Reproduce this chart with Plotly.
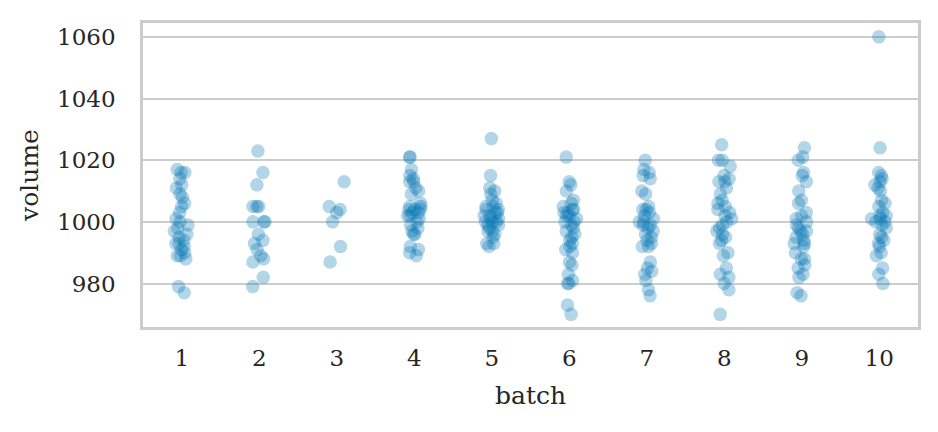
import plotly.graph_objects as go

batches = ["1", "2", "3", "4", "5", "6", "7", "8", "9", "10"]

v1 = [1017, 1016, 1016, 1014, 1012, 1011, 1009, 1008, 1006, 1005, 1003, 1001, 1000, 999, 998,
      997, 996, 995, 994, 993, 993, 992, 991, 990, 989, 989, 988, 979, 977]
v2 = [1023, 1016, 1012, 1005, 1005, 1005, 1000, 1000, 1000, 996, 994, 993, 991, 989, 988, 987, 982, 979]
v3 = [1013, 1005, 1004, 1003, 1000, 992, 987]
v4 = [1021, 1021, 1017, 1015, 1014, 1013, 1013, 1011, 1010, 1009, 1006, 1005, 1005, 1004, 1004,
      1004, 1003, 1003, 1002, 1002, 1001, 1000, 999, 998, 997, 996, 996, 992, 991, 990, 989]
v5 = [1027, 1015, 1011, 1010, 1009, 1007, 1006, 1005, 1005, 1004, 1004, 1003, 1003, 1002, 1002,
      1001, 1001, 1000, 1000, 1000, 999, 999, 998, 997, 997, 996, 995, 993, 993, 992]
v6 = [1021, 1013, 1012, 1010, 1007, 1006, 1005, 1004, 1004, 1003, 1003, 1002, 1002, 1001, 1000,
      1000, 999, 998, 997, 996, 995, 994, 993, 992, 991, 990, 987, 986, 983, 981, 980, 980, 973, 970]
v7 = [1020, 1017, 1016, 1015, 1014, 1010, 1009, 1005, 1004, 1004, 1003, 1002, 1001, 1000, 1000,
      999, 999, 998, 997, 996, 995, 994, 993, 992, 992, 987, 985, 984, 983, 981, 978, 976]
v8 = [1025, 1020, 1020, 1018, 1015, 1014, 1013, 1013, 1011, 1009, 1007, 1006, 1005, 1004, 1003,
      1002, 1001, 1000, 999, 998, 997, 996, 995, 994, 993, 990, 989, 985, 983, 982, 980, 978, 970]
v9 = [1024, 1021, 1020, 1016, 1015, 1013, 1010, 1007, 1006, 1003, 1002, 1001, 1000, 999, 998,
      997, 997, 996, 995, 994, 993, 993, 992, 990, 988, 988, 986, 985, 983, 982, 977, 976]
v10 = [1060, 1024, 1016, 1015, 1014, 1013, 1012, 1011, 1010, 1007, 1006, 1005, 1003, 1002, 1002,
       1001, 1001, 1000, 1000, 999, 998, 996, 995, 994, 993, 992, 990, 989, 985, 983, 980]

values = [v1, v2, v3, v4, v5, v6, v7, v8, v9, v10]
y_ticks = [980, 1000, 1020, 1040, 1060]

xs, ys = [], []
for b, vals in zip(batches, values):
    xs += [b] * len(vals)
    ys += vals

fig = go.Figure()
fig.add_trace(go.Box(
    x=xs, y=ys,
    boxpoints="all", jitter=1, pointpos=0, width=0.22,
    fillcolor="rgba(0,0,0,0)", line=dict(width=0, color="rgba(0,0,0,0)"),
    marker=dict(color="#0173b2", opacity=0.3, size=13.5, line=dict(width=0)),
    showlegend=False, hoveron="points",
))

font_family = "DejaVu Serif"
fig.update_layout(
    width=930, height=424,
    margin=dict(l=135, r=20, t=12, b=105),
    plot_bgcolor="white", paper_bgcolor="white",
    font=dict(family=font_family, color="#262626", size=23),
    xaxis=dict(
        type="category", categoryorder="array", categoryarray=batches,
        range=[-0.5, 9.5],
        showgrid=False, showline=True, linecolor="#cccccc", linewidth=2.5, mirror=True,
        ticks="", ticklabelstandoff=9, tickfont=dict(size=23),
        title=dict(text="batch", font=dict(size=25), standoff=17),
    ),
    yaxis=dict(
        range=[965.9, 1064.5],
        tickvals=y_ticks,
        showgrid=True, gridcolor="#cccccc", gridwidth=2,
        zeroline=False,
        showline=True, linecolor="#cccccc", linewidth=2.5, mirror=True,
        ticks="", ticklabelstandoff=20, tickfont=dict(size=23),
        title=dict(text="volume", font=dict(size=25), standoff=12),
    ),
)

fig.write_html("out.html")
